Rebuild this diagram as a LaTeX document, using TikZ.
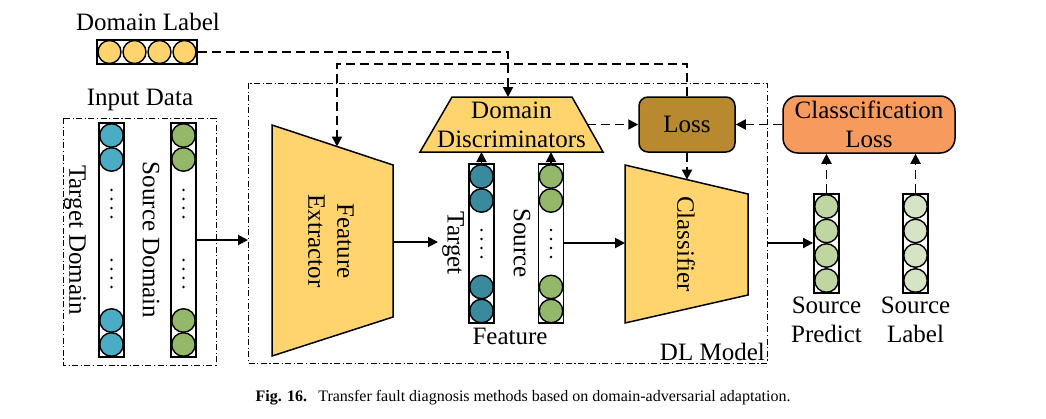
\documentclass[tikz,border=0pt]{standalone}
\usepackage{fontspec}
\setmainfont{Liberation Serif}
\usetikzlibrary{arrows.meta,calc}
\definecolor{yel}{HTML}{FFD46F}
\definecolor{lossc}{HTML}{B8892F}
\definecolor{clsl}{HTML}{F79A5E}
\definecolor{tblue}{HTML}{4BACC6}
\definecolor{sgreen}{HTML}{93B86A}
\definecolor{fteal}{HTML}{3A8A9E}
\definecolor{pgreen}{HTML}{BFD6A2}
\definecolor{lgreen}{HTML}{D6E4C6}
\begin{document}
\begin{tikzpicture}[x=1pt,y=-1pt,
  col/.style={draw=black, line width=1.9pt, fill=white, inner sep=0pt, minimum width=25pt},
  ball/.style={draw=black, line width=1.4pt, circle, inner sep=0pt, minimum size=23.5pt},
  dotc/.style={fill=black, circle, inner sep=0pt, minimum size=2.8pt},
  conn/.style={line width=1.9pt, -{Triangle[length=10pt,width=10pt]}},
  dconn/.style={conn, dash pattern=on 9pt off 5pt},
  ddbox/.style={line width=1pt, dash pattern=on 6pt off 2.5pt on 1.2pt off 2.5pt},
  shapeline/.style={draw=black, line width=1.5pt},
  lbl/.style={font=\fontsize{25}{29}\selectfont, inner sep=0pt, align=center},
]
\useasboundingbox (0,0) rectangle (1046,418);

% ---- frames
\draw[ddbox] (63,118) rectangle (216,365);
\draw[ddbox] (248,83) rectangle (767,363);
\node[lbl, anchor=south east] (dlm) at (765,361) {DL Model};
\node[lbl] (inlbl) at (140,100) {Input Data};

% ---- domain label
\node[lbl] (dlt) at (148,22) {Domain Label};
\node[col, minimum width=100pt, minimum height=24pt] (dl) at (147,52) {};
\foreach \x in {109.5,134.5,159.5,184.5} \node[ball, fill=yel, minimum size=23pt] at (\x,52) {};

% ---- input columns
\node[col, minimum height=234pt] (td) at (111.5,240) {};
\node[col, minimum height=234pt] (sd) at (183.5,240) {};
\foreach \y in {135.5,159.5,320.5,344.5} {
  \node[ball, fill=tblue] at (111.5,\y) {};
  \node[ball, fill=sgreen] at (183.5,\y) {};
}
\foreach \y in {190,199,208,217,260,269,278,287} {
  \node[dotc] at (111.5,\y) {};
  \node[dotc] at (183.5,\y) {};
}
\node[lbl, rotate=-90] (tdl) at (75,240) {Target Domain};
\node[lbl, rotate=-90] (sdl) at (151,240) {Source Domain};

% ---- feature extractor
\fill[yel] (272,125) -- (393,165) -- (393,317) -- (272,356) -- cycle;
\draw[shapeline] (272,125) -- (393,165) -- (393,317) -- (272,356) -- cycle;
\node[lbl, rotate=-90] (fe) at (331,241) {Feature\\Extractor};
\coordinate (fetop) at (337,146.5);
\coordinate (feright) at (393,242);

% ---- domain discriminators
\fill[yel] (452,97) -- (572,97) -- (603,152) -- (420,152) -- cycle;
\draw[shapeline] (452,97) -- (572,97) -- (603,152) -- (420,152) -- cycle;
\node[lbl] (dd) at (511.5,125) {Domain\\Discriminators};
\coordinate (ddtop) at (508,97);
\coordinate (ddright) at (587,124.5);

% ---- classifier
\fill[yel] (625,165) -- (748,194) -- (748,295) -- (625,323) -- cycle;
\draw[shapeline] (625,165) -- (748,194) -- (748,295) -- (625,323) -- cycle;
\node[lbl, rotate=-90] (cls) at (686,244) {Classifier};
\coordinate (clstop) at (687,179.6);
\coordinate (clsleft) at (625,243);

% ---- loss boxes
\node[lbl, draw=black, line width=1.5pt, fill=lossc, rounded corners=9pt, minimum width=96pt, minimum height=55pt] (loss) at (687,124.5) {Loss};
\node[lbl, draw=black, line width=1.5pt, fill=clsl, rounded corners=15pt, minimum width=172pt, minimum height=57pt] (cl) at (869,124.5) {Classcification\\Loss};

% ---- feature columns
\node[col, minimum height=159pt] (ft) at (481.5,243.5) {};
\node[col, minimum height=159pt] (fs) at (551,243.5) {};
\foreach \y in {176.5,200.5,287,311} {
  \node[ball, fill=fteal] at (481.5,\y) {};
  \node[ball, fill=sgreen] at (551,\y) {};
}
\foreach \y in {230,239,248,257} {
  \node[dotc] at (481.5,\y) {};
  \node[dotc] at (551,\y) {};
}
\node[lbl, rotate=-90] (ftl) at (453,243) {Target};
\node[lbl, rotate=-90] (fsl) at (522,243) {Source};
\node[lbl] (featl) at (510,336) {Feature};

% ---- output columns
\node[col, minimum height=99pt] (sp) at (826.5,243.5) {};
\node[col, minimum height=99pt] (sl) at (915.5,243.5) {};
\foreach \y in {206.5,231,255.5,280.5} {
  \node[ball, fill=pgreen] at (826.5,\y) {};
  \node[ball, fill=lgreen] at (915.5,\y) {};
}
\node[lbl] (spl) at (826.5,320) {Source\\Predict};
\node[lbl] (sll) at (915.5,320) {Source\\Label};

% ---- connectors
\coordinate (dlin) at (248,240);
\coordinate (ftin) at (438,242);
\coordinate (dlout) at (767,243);
\draw[dconn] (dl.east) -| (ddtop);
\draw[dconn] (loss.north) -- ++(0,-32) -| (fetop);
\draw[dconn] (ddright) -- (loss.west);
\draw[dconn] (cl.west) -- (loss.east);
\draw[dconn] (loss.south) -- (clstop);
\draw[conn] (sd.east |- dlin) -- (dlin);
\draw[conn] (feright) -- (ftin);
\draw[conn] (ft.north) -- (ft.north |- 0,152);
\draw[conn] (fs.north) -- (fs.north |- 0,152);
\draw[conn] (fs.east |- clsleft) -- (clsleft);
\draw[conn] (dlout) -- (sp.west |- dlout);
\draw[dconn] (sp.north) -- (sp.north |- cl.south);
\draw[dconn] (sl.north) -- (sl.north |- cl.south);

% ---- caption
\node[inner sep=0pt, font=\fontsize{16}{18}\selectfont] (cap) at (523,398) {\textbf{Fig. 16.}\hspace{0.7em}Transfer fault diagnosis methods based on domain-adversarial adaptation.};
\end{tikzpicture}
\end{document}
